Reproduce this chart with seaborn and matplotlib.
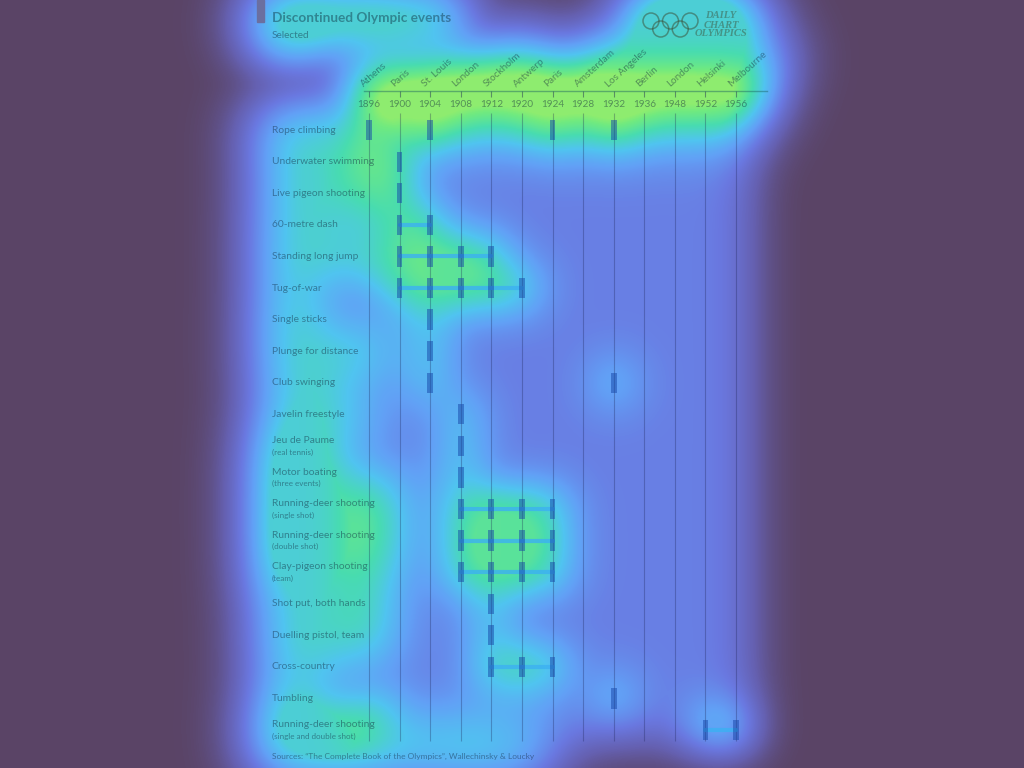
import matplotlib
matplotlib.use("Agg")
import matplotlib.pyplot as plt
import matplotlib.transforms as mtransforms
from matplotlib.colors import LinearSegmentedColormap
from matplotlib.patches import Rectangle, Circle
import numpy as np
import pandas as pd
import seaborn as sns

# ---------------- data ----------------
game_years = ["1896", "1900", "1904", "1908", "1912", "1920", "1924",
              "1928", "1932", "1936", "1948", "1952", "1956"]
game_cities = ["Athens", "Paris", "St. Louis", "London", "Stockholm", "Antwerp",
               "Paris", "Amsterdam", "Los Angeles", "Berlin", "London",
               "Helsinki", "Melbourne"]
event_names = ["Rope climbing", "Underwater swimming", "Live pigeon shooting",
               "60-metre dash", "Standing long jump", "Tug-of-war",
               "Single sticks", "Plunge for distance", "Club swinging",
               "Javelin freestyle", "Jeu de Paume", "Motor boating",
               "Running-deer shooting", "Running-deer shooting",
               "Clay-pigeon shooting", "Shot put, both hands",
               "Duelling pistol, team", "Cross-country", "Tumbling",
               "Running-deer shooting"]
event_notes = ["", "", "", "", "", "", "", "", "", "",
               "(real tennis)", "(three events)", "(single shot)",
               "(double shot)", "(team)", "", "", "", "",
               "(single and double shot)"]
event_games = [
    ["1896", "1904", "1924", "1932"],
    ["1900"],
    ["1900"],
    ["1900", "1904"],
    ["1900", "1904", "1908", "1912"],
    ["1900", "1904", "1908", "1912", "1920"],
    ["1904"],
    ["1904"],
    ["1904", "1932"],
    ["1908"],
    ["1908"],
    ["1908"],
    ["1908", "1912", "1920", "1924"],
    ["1908", "1912", "1920", "1924"],
    ["1908", "1912", "1920", "1924"],
    ["1912"],
    ["1912"],
    ["1912", "1920", "1924"],
    ["1932"],
    ["1952", "1956"],
]
title = "Discontinued Olympic events"
subtitle = "Selected"
source = "Sources: \u201cThe Complete Book of the Olympics\u201d, Wallechinsky & Loucky"

# ---------------- tables ----------------
recs = []
segs = []
seg_id = 0
for r, games in enumerate(event_games):
    idxs = [game_years.index(g) for g in games]
    for i in idxs:
        recs.append({"event": r, "row": r, "idx": i})
    for a, b in zip(idxs[:-1], idxs[1:]):
        if b - a == 1:
            segs.append({"seg": seg_id, "row": r, "idx": a})
            segs.append({"seg": seg_id, "row": r, "idx": b})
            seg_id += 1
df = pd.DataFrame(recs)
seg_df = pd.DataFrame(segs)

# ---------------- style ----------------
sns.set_theme(style="white")
plt.rcParams["font.family"] = ["Lato", "DejaVu Sans"]

W, H = 1024, 768
TXT = "#0e2238"
TXT_A = 0.45
GRID = "#1a2050"
BAR = "#1646a8"
CONN = "#3cb0f2"

fig = plt.figure(figsize=(W / 100, H / 100), dpi=100)
fig.patch.set_facecolor("white")

ax_left, ax_right, ax_top, ax_bot = 364.4, 766.6, 91.0, 741.7
ax = fig.add_axes([ax_left / W, 1 - ax_bot / H, (ax_right - ax_left) / W,
                   (ax_bot - ax_top) / H])
ax.set_facecolor("none")
n = len(game_years)
nr = len(event_names)

texts, marks, grids = [], [], []

# connectors (seaborn)
sns.lineplot(data=seg_df, x="idx", y="row", units="seg", estimator=None,
             color=CONN, lw=3.0, alpha=0.8, ax=ax, zorder=2, legend=False)
marks += list(ax.lines)
# bars
bars = ax.bar(df["idx"], 0.64, bottom=df["row"] - 0.32, width=0.19, color=BAR,
              alpha=0.5, linewidth=0, zorder=3)
marks += list(bars.patches)
# grid lines and ticks
grids.append(ax.vlines(range(n), -0.55, nr - 1 + 0.35, color=GRID, lw=0.8,
                       alpha=0.3, zorder=1))
grids.append(ax.vlines(range(n), -1.24, -1.06, color=GRID, lw=0.8, alpha=0.45,
                       zorder=1))

ax.set_xlim(-0.15, 13.0)
ax.set_ylim(nr - 1 + 0.37, -1.24)
ax.set_xticks([])
ax.set_yticks([])
ax.set_xlabel("")
ax.set_ylabel("")
for s in ["left", "right", "bottom"]:
    ax.spines[s].set_visible(False)
ax.spines["top"].set_color("#1a6060")
ax.spines["top"].set_alpha(0.45)
ax.spines["top"].set_linewidth(1.0)
grids.append(ax.spines["top"])

for i, (yr, city) in enumerate(zip(game_years, game_cities)):
    texts.append(ax.text(i, -0.8, yr, ha="center", va="center", fontsize=7.2,
                         color=TXT, alpha=TXT_A))
    texts.append(ax.text(i - 0.17, -1.36, city, rotation=42,
                         rotation_mode="anchor", ha="left", va="baseline",
                         fontsize=7.2, color=TXT, alpha=TXT_A))

trans = mtransforms.blended_transform_factory(fig.transFigure, ax.transData)
lx = 272 / W
for r, (name, note) in enumerate(zip(event_names, event_notes)):
    if note:
        texts.append(ax.text(lx, r - 0.17, name, transform=trans, ha="left",
                             va="center", fontsize=7.4, color=TXT, alpha=TXT_A))
        texts.append(ax.text(lx, r + 0.2, note, transform=trans, ha="left",
                             va="center", fontsize=5.8, color=TXT, alpha=TXT_A))
    else:
        texts.append(ax.text(lx, r, name, transform=trans, ha="left",
                             va="center", fontsize=7.4, color=TXT, alpha=TXT_A))

texts.append(fig.text(272 / W, 1 - 18 / H, title, ha="left", va="center",
                      fontsize=9.8, weight="bold", color="#0e3040", alpha=0.45))
texts.append(fig.text(272 / W, 1 - 35 / H, subtitle, ha="left", va="center",
                      fontsize=7.2, color=TXT, alpha=TXT_A))
texts.append(fig.text(272 / W, 1 - 756 / H, source, ha="left", va="center",
                      fontsize=6.0, color=TXT, alpha=TXT_A))

# logo
lax = fig.add_axes([640 / W, 1 - 40 / H, 62 / W, 31 / H])
lax.set_xlim(640, 702)
lax.set_ylim(40, 9)
lax.axis("off")
for cx, cy in [(651, 21), (670.5, 21), (690, 21), (660.75, 29), (680.25, 29)]:
    circ = Circle((cx, cy), 8, fill=False, lw=1.1, color="#3a4a30", alpha=0.5)
    lax.add_patch(circ)
    texts.append(circ)
serif = ["Liberation Serif", "DejaVu Serif"]
for t, yy in [("DAILY", 16), ("CHART", 25.5), ("OLYMPICS", 34)]:
    texts.append(fig.text(721 / W, 1 - yy / H, t, ha="center", va="center",
                          fontsize=7.6, family=serif, style="italic",
                          weight="bold", color="#3a4a30", alpha=0.45))

# ---------------- attention-style glow derived from the drawn ink ----------------
everything = texts + marks + grids


def ink_of(group):
    for a in everything:
        a.set_visible(False)
    for a in group:
        a.set_visible(True)
    fig.canvas.draw()
    img = np.asarray(fig.canvas.buffer_rgba())[..., :3].astype(float) / 255.0
    return 1.0 - img.mean(axis=2)


def gblur(a, s):
    pad = int(3 * s)
    ap = np.pad(a, pad, mode="constant")
    fy = np.fft.fftfreq(ap.shape[0])[:, None]
    fx = np.fft.rfftfreq(ap.shape[1])[None, :]
    G = np.exp(-2 * (np.pi * s) ** 2 * (fy ** 2 + fx ** 2))
    out = np.fft.irfft2(np.fft.rfft2(ap) * G, s=ap.shape)
    return out[pad:pad + a.shape[0], pad:pad + a.shape[1]]


def field(group, s, pct):
    f = np.clip(gblur(ink_of(group), s), 0, None)
    return np.clip(f / np.percentile(f, pct), 0, 1)


Tf = field(texts, 24, 96)
Mf = field(marks, 22, 99.5)
Gf = field(grids, 26, 90)
for a in everything:
    a.set_visible(True)

h = 0.33 * Gf + 0.66 * Tf ** 0.5 + 0.48 * Mf ** 0.8
h = np.clip(h, 0, 0.93)

cmap = LinearSegmentedColormap.from_list("glow", [
    (0.00, "#5a4466"),
    (0.15, "#6560b0"),
    (0.30, "#6a78e0"),
    (0.45, "#62a0f6"),
    (0.60, "#50c4f0"),
    (0.75, "#48dcb0"),
    (0.88, "#70ea80"),
    (1.00, "#b4f05a"),
])
bg = fig.add_axes([0, 0, 1, 1], zorder=-5)
bg.imshow(cmap(h), aspect="auto", interpolation="bilinear")
bg.axis("off")

# title accent bar
fig.patches.append(Rectangle((257 / W, 1 - 22 / H), 7 / W, 22 / H,
                             transform=fig.transFigure, color="#6b6fa0",
                             zorder=2))

fig.savefig("out.png", dpi=100)
